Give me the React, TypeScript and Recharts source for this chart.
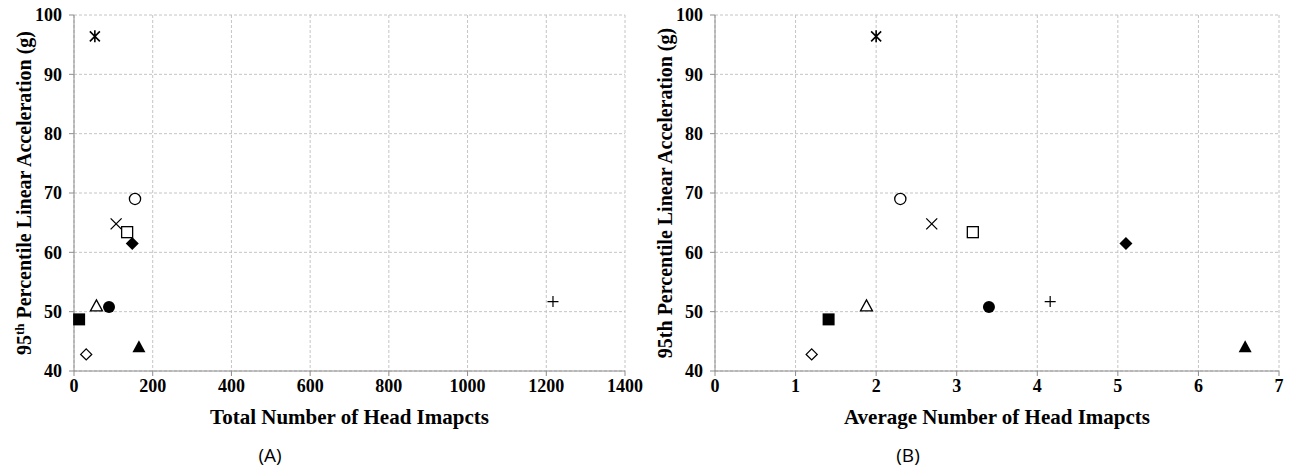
import { ScatterChart, Scatter, XAxis, YAxis, CartesianGrid } from "recharts";

// one marker per group, same order in every array
const markers = [
  "asterisk",
  "circleOpen",
  "cross",
  "squareOpen",
  "diamondFilled",
  "triangleOpen",
  "circleFilled",
  "squareFilled",
  "diamondOpen",
  "triangleFilled",
  "plus",
];
const totalImpacts = [53, 155, 107, 135, 148, 57, 89, 13, 31, 165, 1217];
const avgImpacts = [2.0, 2.3, 2.69, 3.2, 5.1, 1.88, 3.4, 1.41, 1.2, 6.58, 4.16];
const accel = [96.4, 69.0, 64.8, 63.4, 61.5, 50.9, 50.8, 48.7, 42.8, 44.0, 51.7];

const totalTicks = [0, 200, 400, 600, 800, 1000, 1200, 1400];
const avgTicks = [0, 1, 2, 3, 4, 5, 6, 7];
const accelTicks = [40, 50, 60, 70, 80, 90, 100];

const SERIF = "'Liberation Serif', 'Times New Roman', serif";
const AXIS = "#8c8c8c";
const GRID = "#c4c4c4";

const tickStyle = { fontFamily: SERIF, fontWeight: 700, fontSize: 18, fill: "#000" };

const Marker = (props: any) => {
  const { cx, cy, kind } = props;
  if (cx == null || cy == null) return null;
  const sw = 1.3;
  switch (kind) {
    case "circleOpen":
      return <circle cx={cx} cy={cy} r={5.6} fill="#fff" stroke="#000" strokeWidth={sw} />;
    case "circleFilled":
      return <circle cx={cx} cy={cy} r={6} fill="#000" />;
    case "squareOpen":
      return <rect x={cx - 5.5} y={cy - 5.5} width={11} height={11} fill="#fff" stroke="#000" strokeWidth={sw} />;
    case "squareFilled":
      return <rect x={cx - 6} y={cy - 6} width={12} height={12} fill="#000" />;
    case "diamondOpen":
      return (
        <polygon
          points={`${cx},${cy - 5.5} ${cx + 5.5},${cy} ${cx},${cy + 5.5} ${cx - 5.5},${cy}`}
          fill="#fff"
          stroke="#000"
          strokeWidth={sw}
        />
      );
    case "diamondFilled":
      return (
        <polygon points={`${cx},${cy - 6.5} ${cx + 6.5},${cy} ${cx},${cy + 6.5} ${cx - 6.5},${cy}`} fill="#000" />
      );
    case "triangleOpen":
      return (
        <polygon
          points={`${cx},${cy - 6.5} ${cx + 6},${cy + 4.5} ${cx - 6},${cy + 4.5}`}
          fill="#fff"
          stroke="#000"
          strokeWidth={sw}
        />
      );
    case "triangleFilled":
      return <polygon points={`${cx},${cy - 7} ${cx + 6.5},${cy + 5} ${cx - 6.5},${cy + 5}`} fill="#000" />;
    case "cross":
      return (
        <path
          d={`M${cx - 5.5},${cy - 5.5}L${cx + 5.5},${cy + 5.5}M${cx + 5.5},${cy - 5.5}L${cx - 5.5},${cy + 5.5}`}
          stroke="#000"
          strokeWidth={1.3}
        />
      );
    case "plus":
      return (
        <path d={`M${cx - 5.5},${cy}L${cx + 5.5},${cy}M${cx},${cy - 5.5}L${cx},${cy + 5.5}`} stroke="#000" strokeWidth={1.2} />
      );
    case "asterisk":
      return (
        <path
          d={`M${cx - 5},${cy - 5}L${cx + 5},${cy + 5}M${cx + 5},${cy - 5}L${cx - 5},${cy + 5}M${cx},${cy - 6}L${cx},${cy + 6}`}
          stroke="#000"
          strokeWidth={1.6}
        />
      );
    default:
      return null;
  }
};

const YTitle = (props: any) => {
  const { viewBox, offset, sup } = props;
  const x = viewBox.x + offset;
  const cy = viewBox.y + viewBox.height / 2;
  return (
    <text
      x={x}
      y={cy}
      transform={`rotate(-90, ${x}, ${cy})`}
      textAnchor="middle"
      fontFamily={SERIF}
      fontWeight={700}
      fontSize={20}
      fill="#000"
    >
      {sup ? (
        <>
          <tspan>95</tspan>
          <tspan dy={-7} fontSize={13}>
            th
          </tspan>
          <tspan dy={7}> Percentile Linear Acceleration (g)</tspan>
        </>
      ) : (
        "95th Percentile Linear Acceleration (g)"
      )}
    </text>
  );
};

const XTitle = (props: any) => {
  const { viewBox, value } = props;
  return (
    <text
      x={viewBox.x + viewBox.width / 2}
      y={viewBox.y + 53}
      textAnchor="middle"
      fontFamily={SERIF}
      fontWeight={700}
      fontSize={21}
      fill="#000"
    >
      {value}
    </text>
  );
};

const Panel = (props: any) => {
  const { xs, xTicks, xMax, xTitle, yAxisWidth, right, yOffset, sup } = props;
  return (
    <ScatterChart width={646} height={430} margin={{ top: 15, right, left: 0, bottom: 0 }}>
      <CartesianGrid stroke={GRID} strokeDasharray="3 2" />
      <XAxis
        type="number"
        dataKey="x"
        domain={[0, xMax]}
        ticks={xTicks}
        interval={0}
        height={59}
        tick={tickStyle}
        tickSize={5}
        tickMargin={3}
        stroke={AXIS}
        tickLine={{ stroke: AXIS }}
        label={(p: any) => <XTitle {...p} value={xTitle} />}
      />
      <YAxis
        type="number"
        dataKey="y"
        domain={[40, 100]}
        ticks={accelTicks}
        interval={0}
        width={yAxisWidth}
        tick={tickStyle}
        tickSize={5}
        tickMargin={7}
        stroke={AXIS}
        tickLine={{ stroke: AXIS }}
        label={(p: any) => <YTitle {...p} offset={yOffset} sup={sup} />}
      />
      {markers.map((kind, i) => (
        <Scatter
          key={kind}
          data={[{ x: xs[i], y: accel[i] }]}
          isAnimationActive={false}
          shape={(p: any) => <Marker {...p} kind={kind} />}
        />
      ))}
    </ScatterChart>
  );
};

export default function App() {
  return (
    <div style={{ position: "absolute", left: 0, top: 0, width: 1292, height: 471, background: "#fff" }}>
      <div style={{ position: "absolute", left: 0, top: 0 }}>
        <Panel
          xs={totalImpacts}
          xTicks={totalTicks}
          xMax={1400}
          xTitle="Total Number of Head Imapcts"
          yAxisWidth={74}
          right={21}
          yOffset={31}
          sup
        />
      </div>
      <div style={{ position: "absolute", left: 646, top: 0 }}>
        <Panel
          xs={avgImpacts}
          xTicks={avgTicks}
          xMax={7}
          xTitle="Average Number of Head Imapcts"
          yAxisWidth={69}
          right={13}
          yOffset={26}
          sup={false}
        />
      </div>
      <svg width={1292} height={471} style={{ position: "absolute", left: 0, top: 0, pointerEvents: "none" }}>
        <text x={270} y={462} textAnchor="middle" fontFamily="'Open Sans', sans-serif" fontSize={19} fill="#000">
          (A)
        </text>
        <text x={908} y={462} textAnchor="middle" fontFamily="'Open Sans', sans-serif" fontSize={19} fill="#000">
          (B)
        </text>
      </svg>
    </div>
  );
}
